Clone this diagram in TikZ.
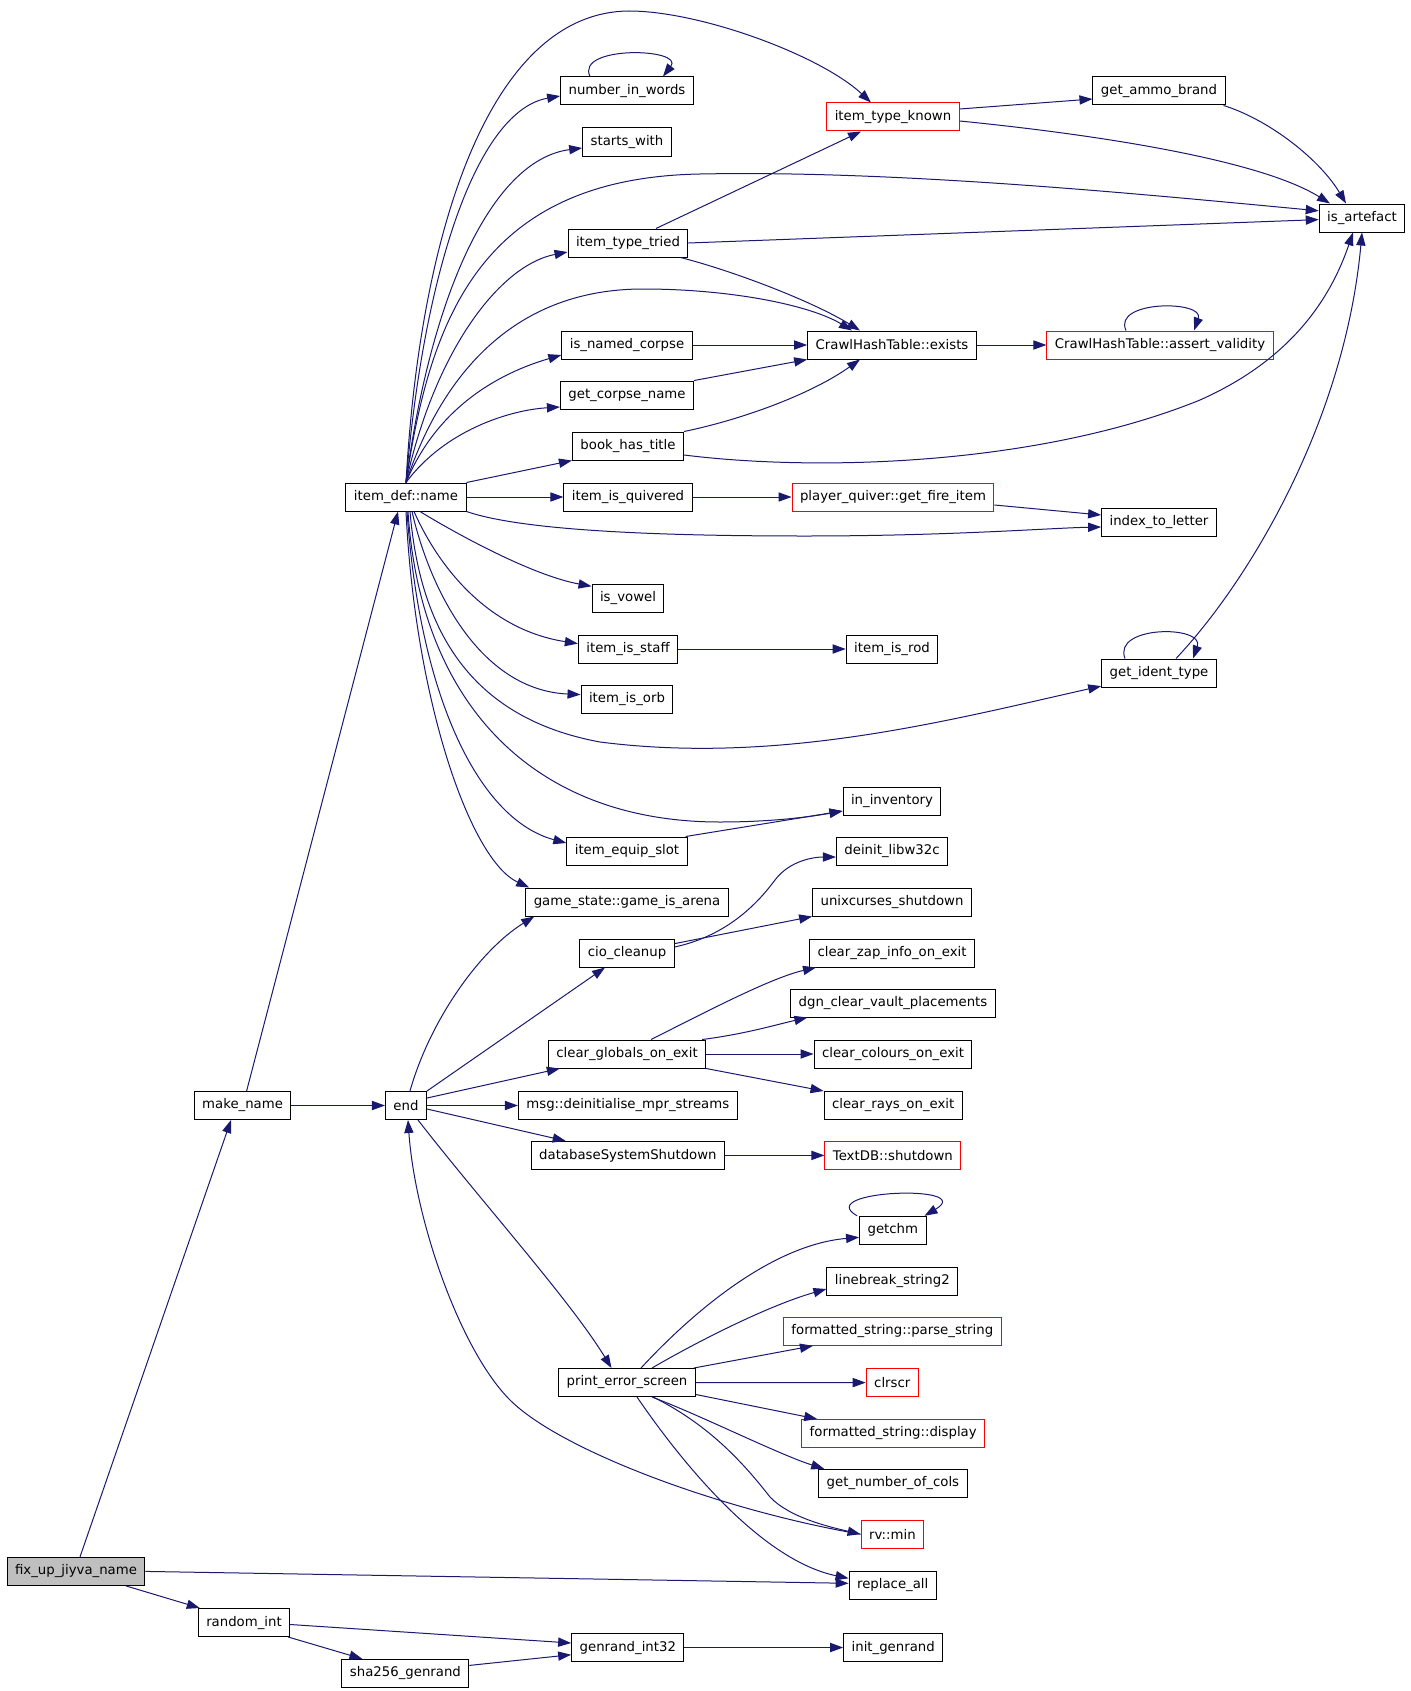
\documentclass[tikz,border=0pt]{standalone}
\usepackage{fontspec}
\setmainfont{DejaVu Sans}
\usetikzlibrary{arrows.meta}
\definecolor{navy}{HTML}{191970}
\tikzset{
  func/.style={draw, line width=0.5pt, font=\fontsize{6.64}{8}\selectfont, inner xsep=4pt, inner ysep=0pt, minimum height=14pt},
  funcred/.style={func, draw=red},
  funcroot/.style={func, fill=black!25},
  call/.style={draw=navy, line width=0.5pt, -{Triangle[length=6.5pt,width=4.6pt]}},
}
\begin{document}
\begin{tikzpicture}[x=0.5pt,y=-0.5pt]
\path[fill=white,use as bounding box] (0,0) rectangle (1411,1691);
\node[funcroot] (fix) at (76,1571.4) {fix\_up\_jiyva\_name};
\node[func] (make) at (242.6,1105.5) {make\_name};
\node[func] (rint) at (244,1622.5) {random\_int};
\node[func] (sha) at (405.4,1673.4) {sha256\_genrand};
\node[func] (endfn) at (406,1105.5) {end};
\node[func] (name) at (406,497) {item\_def::name};
\node[func] (words) at (627,91) {number\_in\_words};
\node[func] (starts) at (627,142) {starts\_with};
\node[func] (tried) at (628,243) {item\_type\_tried};
\node[func] (named) at (627,345) {is\_named\_corpse};
\node[func] (corpse) at (627,395) {get\_corpse\_name};
\node[func] (title) at (628,446) {book\_has\_title};
\node[func] (quiv) at (628,497) {item\_is\_quivered};
\node[func] (vowel) at (628,598) {is\_vowel};
\node[func] (staff) at (628,649) {item\_is\_staff};
\node[func] (orb) at (627,699) {item\_is\_orb};
\node[func] (slot) at (627,851) {item\_equip\_slot};
\node[func] (arena) at (627,902) {game\_state::game\_is\_arena};
\node[func] (cio) at (627,953) {cio\_cleanup};
\node[func] (globals) at (627,1054) {clear\_globals\_on\_exit};
\node[func] (mpr) at (627.8,1105.5) {msg::deinitialise\_mpr\_streams};
\node[func] (dbshut) at (627.9,1155.4) {databaseSystemShutdown};
\node[func] (pes) at (627,1382.5) {print\_error\_screen};
\node[func] (gen32) at (627.8,1647.5) {genrand\_int32};
\node[funcred] (known) at (893,117) {item\_type\_known};
\node[func] (exists) at (892,345) {CrawlHashTable::exists};
\node[funcred] (fire) at (893,497) {player\_quiver::get\_fire\_item};
\node[func] (rod) at (892,649) {item\_is\_rod};
\node[func] (inv) at (892,801) {in\_inventory};
\node[func] (deinit) at (892,851) {deinit\_libw32c};
\node[func] (unix) at (892,902) {unixcurses\_shutdown};
\node[func] (zap) at (892,953) {clear\_zap\_info\_on\_exit};
\node[func] (vault) at (893,1003) {dgn\_clear\_vault\_placements};
\node[func] (colours) at (893,1054) {clear\_colours\_on\_exit};
\node[func] (rays) at (893.2,1105.5) {clear\_rays\_on\_exit};
\node[funcred] (textdb) at (892.9,1155.4) {TextDB::shutdown};
\node[func] (getchm) at (892.8,1230.3) {getchm};
\node[func] (lbreak) at (892.3,1281.5) {linebreak\_string2};
\node[funcred] (parse) at (892.3,1331.3) {formatted\_string::parse\_string};
\node[funcred] (clrscr) at (892.3,1382.6) {clrscr};
\node[funcred] (display) at (893.2,1433.5) {formatted\_string::display};
\node[func] (cols) at (892.9,1483.3) {get\_number\_of\_cols};
\node[funcred] (rvmin) at (892.4,1534.2) {rv::min};
\node[func] (replace) at (892.7,1585.3) {replace\_all};
\node[func] (initgen) at (893.2,1647.5) {init\_genrand};
\node[func] (ammo) at (1159,91) {get\_ammo\_brand};
\node[funcred] (valid) at (1160,345) {CrawlHashTable::assert\_validity};
\node[func] (letter) at (1159,522) {index\_to\_letter};
\node[func] (ident) at (1159,673) {get\_ident\_type};
\node[func] (artefact) at (1362,218) {is\_artefact};
\draw[call] ([xshift=2pt]fix.north) -- ([xshift=-5.8pt]make.south);
\draw[call] (fix.east) -- ([yshift=1pt]replace.west);
\draw[call] ([xshift=25pt]fix.south) -- ([xshift=1pt]rint.north west);
\draw[call] ([xshift=2pt]make.north) -- ([xshift=-4pt]name.south);
\draw[call] (make) -- (endfn);
\draw[call] (name.north) .. controls (420,230) and (490,12) .. (629,11) .. controls (700,11) and (820,55) .. ([xshift=-11pt]known.north);
\draw[call] (name.north) .. controls (425,260) and (480,110) .. ([yshift=-2.5pt]words.west);
\draw[call] (name.north) .. controls (430,300) and (490,160) .. ([yshift=-3pt]starts.west);
\draw[call] (name.north) .. controls (430,320) and (480,178) .. (700,174) .. controls (900,170) and (1150,195) .. ([yshift=3.6pt]artefact.west);
\draw[call] (name.north) .. controls (435,350) and (500,265) .. ([yshift=-4.5pt]tried.west);
\draw[call] (name.north) .. controls (440,380) and (510,289) .. (643,289) .. controls (730,289) and (810,305) .. ([xshift=-20pt]exists.north);
\draw[call] (name.north) .. controls (440,400) and (510,370) .. ([yshift=-5pt]named.west);
\draw[call] (name.north) .. controls (445,430) and (510,410) .. ([yshift=-6pt]corpse.west);
\draw[call] (name.north east) -- (title.south west);
\draw[call] (name) -- (quiv);
\draw[call] (name.south east) .. controls (520,530) and (650,536) .. (805,536) .. controls (950,536) and (1050,528) .. ([yshift=-2.5pt]letter.west);
\draw[call] ([xshift=7pt]name.south) .. controls (450,530) and (530,575) .. ([yshift=-1.4pt]vowel.north west);
\draw[call] ([xshift=4pt]name.south) .. controls (440,570) and (490,630) .. ([yshift=2.7pt]staff.west);
\draw[call] ([xshift=3pt]name.south) .. controls (430,590) and (480,690) .. ([yshift=2.2pt]orb.west);
\draw[call] ([xshift=2pt]name.south) .. controls (420,630) and (470,718) .. (600,742) .. controls (780,765) and (950,720) .. ([yshift=0.7pt]ident.south west);
\draw[call] ([xshift=1pt]name.south) .. controls (420,700) and (530,822) .. (720,822) .. controls (780,822) and (820,815) .. ([yshift=-5pt]inv.west);
\draw[call] ([xshift=0.5pt]name.south) .. controls (420,700) and (480,820) .. ([yshift=4pt]slot.west);
\draw[call] (name.south) .. controls (415,700) and (470,860) .. ([xshift=2pt]arena.north west);
\draw[call] ([xshift=14pt]tried.north) -- ([xshift=-16pt]known.south);
\draw[call] (tried.east) -- ([yshift=-0.8pt]artefact.west);
\draw[call] ([xshift=-4pt]tried.south east) .. controls (730,270) and (810,300) .. ([xshift=-16pt]exists.north);
\draw[call] ([yshift=4pt]known.east) -- ([yshift=-4pt]ammo.west);
\draw[call] ([yshift=-2pt]known.east) .. controls (1100,135) and (1260,160) .. ([xshift=-16pt]artefact.north);
\draw[call] ([xshift=-1pt]ammo.south east) .. controls (1270,120) and (1320,160) .. ([xshift=-8pt]artefact.north);
\draw[call] (named) -- (exists);
\draw[call] (corpse.north east) -- (exists.south west);
\draw[call] (title.north east) .. controls (740,420) and (810,395) .. ([xshift=-16pt]exists.south);
\draw[call] ([yshift=-4.5pt]title.east) .. controls (820,472) and (1040,465) .. (1200,400) .. controls (1290,360) and (1330,300) .. ([xshift=-4.5pt]artefact.south);
\draw[call] (exists) -- (valid);
\draw[call] ([xshift=-17pt]valid.north) .. controls (1112,300) and (1205,300) .. ([xshift=17pt]valid.north);
\draw[call] ([xshift=-18.5pt]words.north) .. controls (575,45) and (685,48) .. ([xshift=18pt]words.north);
\draw[call] (quiv) -- (fire);
\draw[call] ([yshift=-4pt]fire.east) -- ([yshift=3.5pt]letter.west);
\draw[call] (staff) -- (rod);
\draw[call] ([xshift=-17pt]ident.north) .. controls (1112,625) and (1205,625) .. ([xshift=17pt]ident.north);
\draw[call] ([xshift=8.5pt]ident.north) .. controls (1250,580) and (1345,420) .. (artefact.south);
\draw[call] ([xshift=-1pt]slot.north east) -- ([yshift=-5pt]inv.west);
\draw[call] ([xshift=2pt]endfn.north) .. controls (430,1020) and (480,950) .. ([xshift=4.5pt]arena.south west);
\draw[call] (endfn.north east) -- ([xshift=-11pt]cio.south);
\draw[call] ([yshift=3.75pt]endfn.east) -- ([xshift=6pt]globals.south west);
\draw[call] (endfn) -- (mpr);
\draw[call] ([yshift=-1.75pt]endfn.east) -- ([xshift=17.5pt]dbshut.north west);
\draw[call] ([xshift=6pt]endfn.south) .. controls (480,1200) and (570,1300) .. ([xshift=-7.75pt]pes.north);
\draw[call] (rvmin.west) .. controls (720,1510) and (560,1450) .. (510,1400) .. controls (460,1350) and (415,1220) .. ([xshift=1pt]endfn.south);
\draw[call] ([yshift=3pt]cio.east) .. controls (730,935) and (760,900) .. (775,880) .. controls (790,860) and (815,857) .. ([yshift=-3pt]deinit.west);
\draw[call] ([yshift=4.7pt]cio.east) -- (unix.south west);
\draw[call] ([xshift=12pt]globals.north) .. controls (700,1015) and (770,978) .. ([xshift=3.5pt]zap.south west);
\draw[call] ([xshift=-2pt]globals.north east) .. controls (745,1034) and (775,1025) .. ([xshift=8.6pt]vault.south west);
\draw[call] (globals) -- (colours);
\draw[call] (globals.south east) -- (rays.north west);
\draw[call] (dbshut) -- (textdb);
\draw[call] ([xshift=7pt]pes.north) .. controls (690,1315) and (770,1245) .. ([yshift=-3.5pt]getchm.west);
\draw[call] ([xshift=-1pt]getchm.north west) .. controls (812,1190) and (978,1184) .. ([xshift=-1pt]getchm.north east);
\draw[call] ([xshift=12.5pt]pes.north) .. controls (700,1340) and (770,1305) .. ([yshift=-3.75pt]lbreak.west);
\draw[call] ([xshift=-1pt]pes.north east) -- ([xshift=15pt]parse.south west);
\draw[call] (pes) -- (clrscr);
\draw[call] ([yshift=-6pt]pes.east) -- ([xshift=8pt]display.north west);
\draw[call] ([xshift=12.5pt]pes.south) .. controls (700,1415) and (780,1455) .. ([xshift=3pt]cols.north west);
\draw[call] ([xshift=13pt]pes.south) .. controls (710,1425) and (745,1465) .. (770,1497) .. controls (790,1518) and (830,1527) .. (rvmin.west);
\draw[call] ([xshift=5pt]pes.south) .. controls (680,1460) and (760,1560) .. ([yshift=3.5pt]replace.west);
\draw[call] ([yshift=-1pt]rint.east) -- ([yshift=2.25pt]gen32.west);
\draw[call] ([xshift=-1pt]rint.south east) -- ([xshift=-21.5pt]sha.north);
\draw[call] ([yshift=4pt]sha.east) -- ([yshift=-3.6pt]gen32.west);
\draw[call] (gen32) -- (initgen);
\end{tikzpicture}
\end{document}
